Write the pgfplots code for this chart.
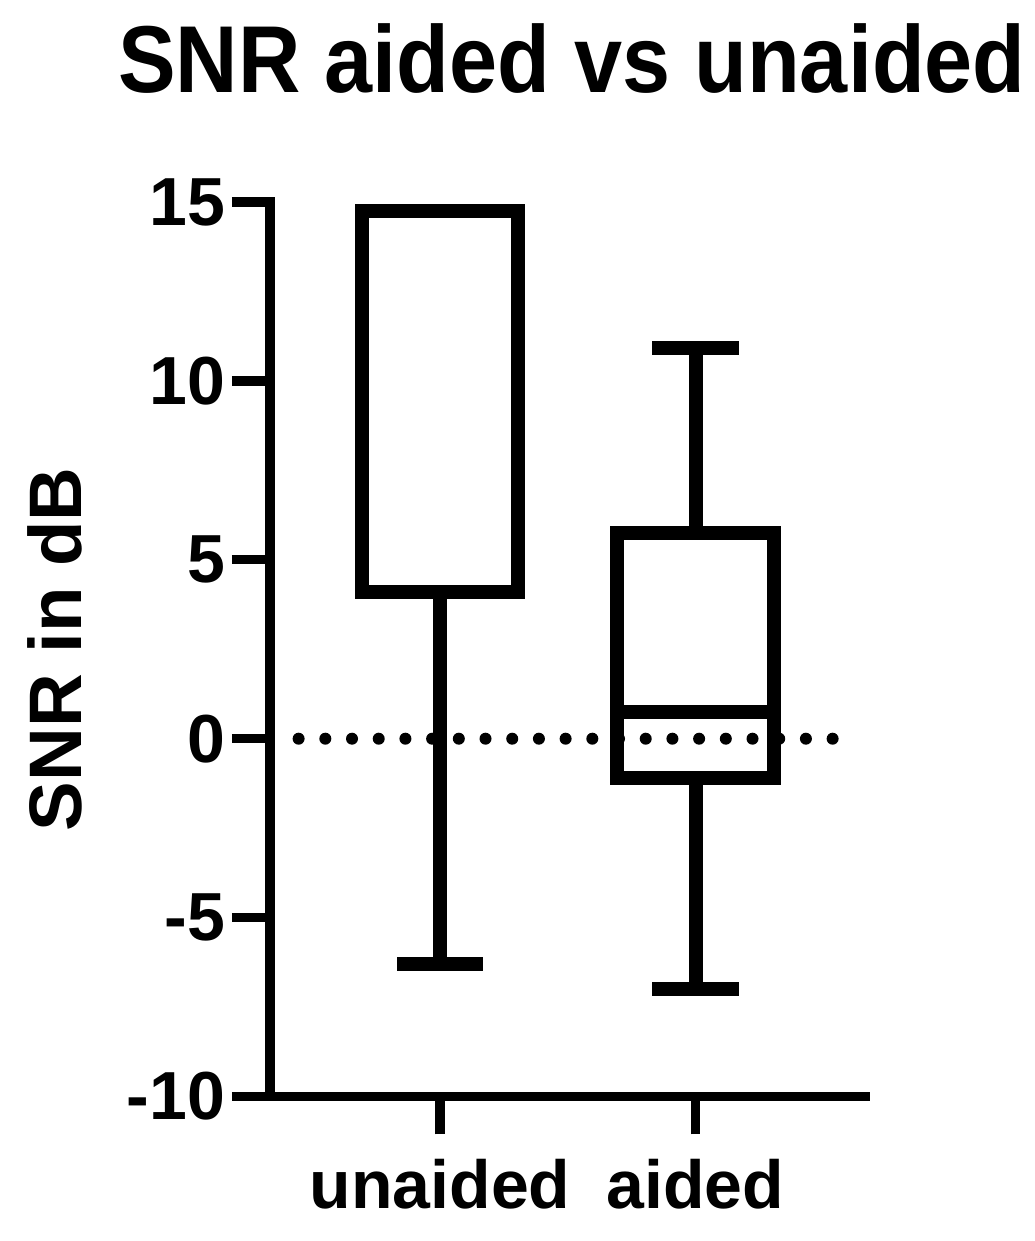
\documentclass[border=0pt]{standalone}
\usepackage{fontspec}
\setmainfont{Liberation Sans}
\usepackage{graphicx}
\usepackage{pgfplots}
\pgfplotsset{compat=1.18}
\usepgfplotslibrary{statistics}

% 1 px of the reference = 0.25pt
\begin{document}
\begin{tikzpicture}
  \path[use as bounding box] (-67.5pt,-36.125pt) rectangle (191.25pt,274.125pt);
  \begin{axis}[
      at={(0,0)}, anchor=south west,
      scale only axis,
      width=148.85pt, height=223.625pt,
      xmin=0.3346, xmax=2.665,
      ymin=-10, ymax=15,
      axis x line=bottom, axis y line=left,
      axis line style={-, line width=2.33pt, line cap=rect},
      tick align=outside,
      major tick length=9.5pt,
      tick style={line width=2.33pt, black},
      xtick={1,2},
      xticklabels={unaided, aided},
      ytick={-10,-5,0,5,10,15},
      /pgf/number format/assume math mode=true,
      yticklabel style={font=\bfseries\fontsize{17}{17}\selectfont, inner sep=0pt, xshift=-1.5pt},
      xticklabel style={font=\bfseries\fontsize{17}{17}\selectfont, anchor=base, inner sep=0pt, yshift=-18.5pt},
      ylabel={SNR in dB},
      ylabel style={font=\bfseries\fontsize{18.6}{18.6}\selectfont, at={(rel axis cs:-0.316,0.5)}, anchor=base, rotate=0},
      clip=false,
    ]
    % zero reference line (dotted)
    \addplot[black, line width=3pt, line cap=round, dash pattern=on 0pt off 6.675pt]
      coordinates {(0.4466,0) (2.641,0)};
    % unaided
    \addplot[black, line width=3.5pt, boxplot/draw direction=y, boxplot prepared={
        lower whisker=-6.3, lower quartile=4.1, median=14.75,
        upper quartile=14.75, upper whisker=14.75,
        draw position=1, box extend=0.614, whisker extend=0.334}]
      coordinates {};
    % aided
    \addplot[black, line width=3.5pt, boxplot/draw direction=y, boxplot prepared={
        lower whisker=-7.0, lower quartile=-1.1, median=0.74,
        upper quartile=5.74, upper whisker=10.93,
        draw position=2, box extend=0.614, whisker extend=0.337}]
      coordinates {};
  \end{axis}
  \node[font=\bfseries\fontsize{21.6}{21.6}\selectfont, anchor=base, inner sep=0pt]
    at (75.5pt,251.1pt) {\scalebox{1}[1.1]{SNR aided vs unaided}};
\end{tikzpicture}
\end{document}
